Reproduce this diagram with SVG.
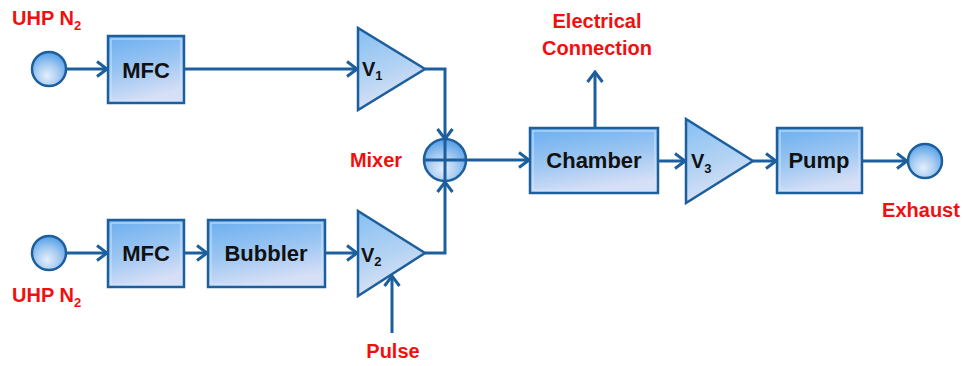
<svg xmlns="http://www.w3.org/2000/svg" width="963" height="366" viewBox="0 0 963 366">
<style>
.box{fill:url(#gBox);stroke:#1d5f9c;stroke-width:2.5}
.hl{fill:none;stroke:#cfe6ff;stroke-width:1.2;opacity:0.8}
.tri{fill:url(#gTri);stroke:#1d5f9c;stroke-width:2.5;stroke-linejoin:miter}
.circ{fill:url(#gCirc);stroke:#1d5f9c;stroke-width:2.5}
.lbl{font-family:"Liberation Sans",Arial,sans-serif;font-weight:bold;font-size:22px;fill:#111;text-anchor:middle}
.v{font-family:"Liberation Sans",Arial,sans-serif;font-weight:bold;font-size:20px;fill:#111}
.sub{font-size:13px}
.red{font-family:"Liberation Sans",Arial,sans-serif;font-weight:bold;font-size:20px;fill:#f01010}
.redsub{font-size:13px}
.ln{fill:none;stroke:#1d5f9c;stroke-width:3}
.arr{marker-end:url(#ah)}
</style>
<defs>
<linearGradient id="gBox" x1="0" y1="0" x2="0.3" y2="1">
<stop offset="0" stop-color="#6aaef0"/>
<stop offset="0.55" stop-color="#9cc6f2"/>
<stop offset="1" stop-color="#d6dff6"/>
</linearGradient>
<linearGradient id="gTri" x1="0" y1="0" x2="0.3" y2="1">
<stop offset="0" stop-color="#86bff2"/>
<stop offset="0.6" stop-color="#b4d3f3"/>
<stop offset="1" stop-color="#dde3f6"/>
</linearGradient>
<radialGradient id="gCirc" cx="0.45" cy="0.7" r="0.65">
<stop offset="0" stop-color="#e6eefb"/>
<stop offset="0.5" stop-color="#a9cdf2"/>
<stop offset="1" stop-color="#5ea4e8"/>
</radialGradient>
<marker id="ah" markerUnits="userSpaceOnUse" markerWidth="16" markerHeight="18" viewBox="0 0 16 18" refX="14" refY="9" orient="auto">
<path d="M4,1.5 L14,9 L4,16.5" fill="none" stroke="#1d5f9c" stroke-width="3"/>
</marker>
</defs>

<g id="connectors">
<path class="ln arr" d="M67,69 H107"/>
<path class="ln arr" d="M184,69 H357"/>
<path class="ln arr" d="M425,69 H445 V139"/>
<path class="ln arr" d="M67,253 H107"/>
<path class="ln arr" d="M184,253 H207"/>
<path class="ln arr" d="M325,253 H357"/>
<path class="ln arr" d="M425,253 H445 V182"/>
<path class="ln arr" d="M392,333 V276"/>
<path class="ln arr" d="M466,160 H529"/>
<path class="ln arr" d="M595,128 V72"/>
<path class="ln arr" d="M658,161 H685"/>
<path class="ln arr" d="M753,161 H776"/>
<path class="ln arr" d="M862,161 H907"/>
</g>

<g id="src1">
<circle class="circ" cx="49" cy="69" r="17"/>
<text class="red" x="12" y="25">UHP N<tspan class="redsub" dy="5">2</tspan></text>
</g>
<g id="mfc1">
<rect class="box" x="108" y="36" width="76" height="67"/>
<rect class="hl" x="111" y="39" width="70" height="61"/>
<text class="lbl" x="146" y="78">MFC</text>
</g>
<g id="v1">
<polygon class="tri" points="358,28 358,110 425,69"/>
<text class="v" x="362" y="76">V<tspan class="sub" dy="4">1</tspan></text>
</g>

<g id="src2">
<circle class="circ" cx="49" cy="253" r="17"/>
<text class="red" x="12" y="302">UHP N<tspan class="redsub" dy="5">2</tspan></text>
</g>
<g id="mfc2">
<rect class="box" x="108" y="220" width="76" height="67"/>
<rect class="hl" x="111" y="223" width="70" height="61"/>
<text class="lbl" x="146" y="261">MFC</text>
</g>
<g id="bubbler">
<rect class="box" x="208" y="220" width="117" height="67"/>
<rect class="hl" x="211" y="223" width="111" height="61"/>
<text class="lbl" x="266" y="261">Bubbler</text>
</g>
<g id="v2">
<polygon class="tri" points="358,211 358,296 425,253"/>
<text class="v" x="361" y="262">V<tspan class="sub" dy="4">2</tspan></text>
</g>
<g id="pulse">
<text class="red" x="393" y="358" text-anchor="middle">Pulse</text>
</g>

<g id="mixer">
<circle class="circ" cx="445" cy="160" r="21"/>
<path class="ln" d="M424,160 H466 M445,139 V181"/>
<text class="red" x="376" y="167" text-anchor="middle">Mixer</text>
</g>

<g id="chamber">
<rect class="box" x="530" y="128" width="128" height="65"/>
<rect class="hl" x="533" y="131" width="122" height="59"/>
<text class="lbl" x="594" y="168">Chamber</text>
</g>
<g id="elec">
<text class="red" x="597" y="28" text-anchor="middle">Electrical</text>
<text class="red" x="597" y="55" text-anchor="middle">Connection</text>
</g>

<g id="v3">
<polygon class="tri" points="686,119 686,203 753,161"/>
<text class="v" x="691" y="168">V<tspan class="sub" dy="5">3</tspan></text>
</g>
<g id="pump">
<rect class="box" x="777" y="128" width="85" height="65"/>
<rect class="hl" x="780" y="131" width="79" height="59"/>
<text class="lbl" x="819" y="168">Pump</text>
</g>
<g id="exhaust">
<circle class="circ" cx="925" cy="161" r="17"/>
<text class="red" x="921" y="217" text-anchor="middle">Exhaust</text>
</g>
</svg>
